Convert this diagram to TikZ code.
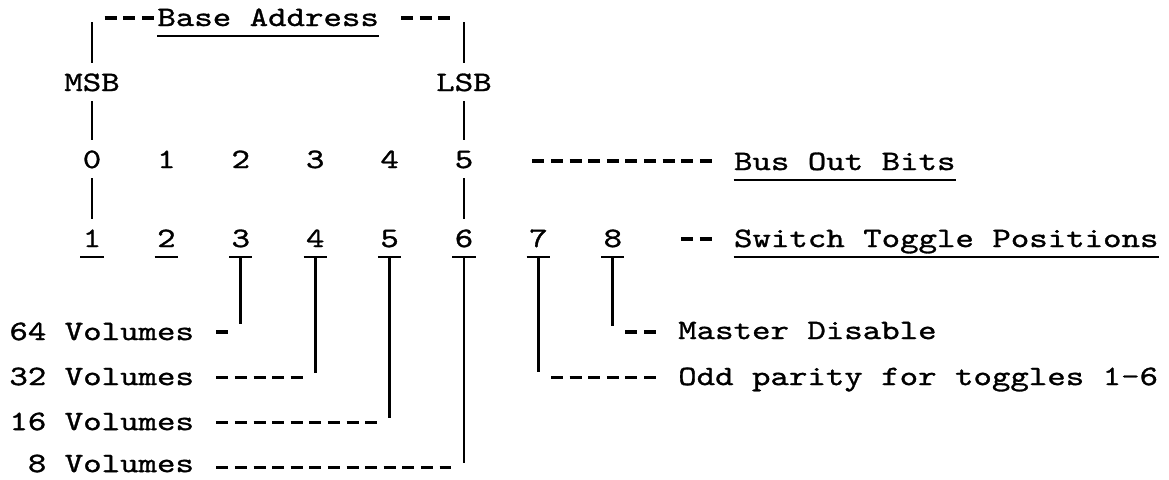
\documentclass[tikz,border=0pt]{standalone}
\usepackage{fontspec}
\newfontfamily\typew{lmmono10-regular}[Extension=.otf, FakeStretch=1.25, FakeBold=1.1]

\begin{document}
\begin{tikzpicture}[x=0.372cm, y=-0.02cm,
   txt/.style={font=\typew\fontsize{16}{19}\selectfont, inner xsep=0pt,
      inner ysep=5.5pt, text height=10pt, text depth=0pt},
   bar/.style={line width=1.5pt},
   hyph/.style={line width=1.8pt, dash pattern=on 0.24cm off 0.132cm},
   uline/.style={draw, line width=1.5pt},
   ulined/.style={append after command={(\tikzlastnode.south west)
      edge[uline] (\tikzlastnode.south east)}},
   digit/.style={txt, ulined, anchor=base, inner xsep=1.2pt}]
   \useasboundingbox (-0.946,0) rectangle (61.903,479);
   % Base address bracket
   \coordinate (bl) at (4,22);
   \coordinate (br) at (24,22);
   \coordinate (top) at (0,18);
   \node[txt, ulined, anchor=base west] (base) at (7.5,26) {Base Address};
   \node[txt, anchor=base] (msb) at (4,91) {MSB};
   \node[txt, anchor=base] (lsb) at (24,91) {LSB};
   \draw[hyph, shorten <=0.253cm, shorten >=0.067cm] (bl |- top) -- (base.west |- top);
   \draw[hyph, shorten <=0.439cm, shorten >=0.253cm] (base.east |- top) -- (br |- top);
   % Bus out bits (not underlined)
   \node[txt, anchor=base] (b0) at (4,168) {0};
   \node[txt, anchor=base] (b1) at (8,168) {1};
   \node[txt, anchor=base] (b2) at (12,168) {2};
   \node[txt, anchor=base] (b3) at (16,168) {3};
   \node[txt, anchor=base] (b4) at (20,168) {4};
   \node[txt, anchor=base] (b5) at (24,168) {5};
   \node[txt, ulined, anchor=base west] (bus) at (38.5,170) {Bus Out Bits};
   \coordinate (rb) at (0,161);
   \draw[hyph, shorten <=1.369cm, shorten >=0.44cm] (b5 |- rb) -- (bus.west |- rb);
   % Switch toggle positions (underlined)
   \node[digit] (t1) at (4,247) {1};
   \node[digit] (t2) at (8,247) {2};
   \node[digit] (t3) at (12,247) {3};
   \node[digit] (t4) at (16,247) {4};
   \node[digit] (t5) at (20,247) {5};
   \node[digit] (t6) at (24,247) {6};
   \node[digit] (t7) at (28,247) {7};
   \node[digit] (t8) at (32,247) {8};
   \node[txt, ulined, anchor=base west] (sw) at (38.5,247) {Switch Toggle Positions};
   \coordinate (rs) at (0,239);
   \draw[hyph, shorten <=1.369cm, shorten >=0.44cm] (t8 |- rs) -- (sw.west |- rs);
   % MSB and LSB columns
   \draw[bar] (bl) -- (msb);
   \draw[bar] (msb) -- (b0);
   \draw[bar] (b0) -- (t1);
   \draw[bar] (br) -- (lsb);
   \draw[bar] (lsb) -- (b5);
   \draw[bar] (b5) -- (t6);
   % Volume labels (rows r1..r4)
   \coordinate (r1) at (0,332);
   \coordinate (r2) at (0,377);
   \coordinate (r3) at (0,422);
   \coordinate (r4) at (0,467);
   \node[txt, anchor=base east] (v64) at (9.5,340) {64 Volumes};
   \node[txt, anchor=base east] (v32) at (9.5,385) {32 Volumes};
   \node[txt, anchor=base east] (v16) at (9.5,430) {16 Volumes};
   \node[txt, anchor=base east] (v8) at (9.5,472) {8 Volumes};
   \draw[bar, shorten >=0.16cm] (t3) -- (t3 |- r1);
   \draw[bar, shorten >=0.08cm] (t4) -- (t4 |- r2);
   \draw[bar, shorten >=0.08cm] (t5) -- (t5 |- r3);
   \draw[bar, shorten >=0.08cm] (t6) -- (t6 |- r4);
   \draw[hyph, shorten <=0.44cm, shorten >=0.253cm] (v64.east |- r1) -- (t3 |- r1);
   \draw[hyph, shorten <=0.44cm, shorten >=0.253cm] (v32.east |- r2) -- (t4 |- r2);
   \draw[hyph, shorten <=0.44cm, shorten >=0.253cm] (v16.east |- r3) -- (t5 |- r3);
   \draw[hyph, shorten <=0.44cm, shorten >=0.253cm] (v8.east |- r4) -- (t6 |- r4);
   % Toggles 7 and 8
   \node[txt, anchor=base west] (mdis) at (35.5,339) {Master Disable};
   \node[txt, anchor=base west] (odd) at (35.5,385) {Odd parity for toggles 1-6};
   \draw[bar, shorten >=0.1cm] (t7) -- (t7 |- r2);
   \draw[bar, shorten >=0.12cm] (t8) -- (t8 |- r1);
   \draw[hyph, shorten <=0.253cm, shorten >=0.44cm] (t8 |- r1) -- (mdis.west |- r1);
   \draw[hyph, shorten <=0.253cm, shorten >=0.44cm] (t7 |- r2) -- (odd.west |- r2);
\end{tikzpicture}
\end{document}
